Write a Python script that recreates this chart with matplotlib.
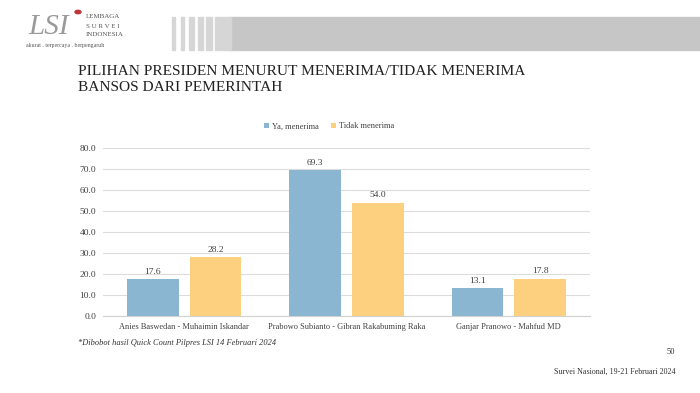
import numpy as np
import matplotlib.pyplot as plt
from matplotlib.patches import Rectangle

plt.rcParams['font.family'] = ['Liberation Serif', 'DejaVu Serif']

# data
pasangan = ['Anies Baswedan - Muhaimin Iskandar',
            'Prabowo Subianto - Gibran Rakabuming Raka',
            'Ganjar Pranowo - Mahfud MD']
ya_menerima = [17.6, 69.3, 13.1]
tidak_menerima = [28.2, 54.0, 17.8]
seri = ['Ya, menerima', 'Tidak menerima']
warna = ['#8ab6d2', '#fdd07f']

fig = plt.figure(figsize=(7, 3.93), dpi=100)
W, H = 700, 393

def fx(px):
    return px / W

def fy(py):
    return 1 - py / H

# header band
fig.patches.append(Rectangle((fx(230), fy(50)), fx(470), 33 / H,
                             transform=fig.transFigure, color='#c6c6c6', zorder=0))
for i in range(7):
    x0 = 172 + i * 8.5
    fig.patches.append(Rectangle((fx(x0), fy(50)), fx(3 + i * 0.8), 33 / H,
                                 transform=fig.transFigure, color='#d6d6d6', zorder=0))

# logo
fig.text(fx(28), fy(27), 'LSI', fontsize=21, color='#9a9a9a', va='center', ha='left',
         fontstyle='italic')
fig.patches.append(plt.Circle((fx(78), fy(12)), 3 / W, transform=fig.transFigure,
                              color='#c0343a'))
fig.text(fx(86), fy(17), 'LEMBAGA', fontsize=5, color='#555555', va='center')
fig.text(fx(86), fy(26), 'S U R V E I', fontsize=5, color='#555555', va='center')
fig.text(fx(86), fy(35), 'INDONESIA', fontsize=5, color='#555555', va='center')
fig.text(fx(26), fy(46), 'akurat . terpercaya . berpengaruh', fontsize=4.2,
         color='#555555', va='center')

# title
fig.text(fx(78), fy(65), 'PILIHAN PRESIDEN MENURUT MENERIMA/TIDAK MENERIMA\nBANSOS DARI PEMERINTAH',
         fontsize=11.1, color='#222222', va='top', ha='left', linespacing=1.3)

ax = fig.add_axes([fx(103), fy(316), fx(590 - 103), (316 - 148) / H])
x = np.arange(len(pasangan))
lebar = 0.32
off = 0.193
b1 = ax.bar(x - off, ya_menerima, lebar, color=warna[0], label=seri[0], zorder=2)
b2 = ax.bar(x + off, tidak_menerima, lebar, color=warna[1], label=seri[1], zorder=2)
for bars in (b1, b2):
    for r in bars:
        ax.text(r.get_x() + r.get_width() / 2, r.get_height() + 1.5,
                f'{r.get_height():.1f}', ha='center', va='bottom', fontsize=6.8,
                color='#404040')

ax.set_xlim(-0.5, 2.5)
ax.set_ylim(0, 80)
ax.set_yticks(np.arange(0, 81, 10))
ax.set_yticklabels([f'{v:.1f}' for v in np.arange(0, 81, 10)], fontsize=6.8, color='#404040')
ax.set_xticks(x)
ax.set_xticklabels(pasangan, fontsize=6.0, color='#404040')
ax.tick_params(length=0, pad=5)
ax.grid(axis='y', color='#dcdcdc', linewidth=0.8, zorder=0)
for s in ['top', 'right', 'left']:
    ax.spines[s].set_visible(False)
ax.spines['bottom'].set_color('#d0d0d0')

ax.legend(loc='lower center', bbox_to_anchor=(0.464, 1.06), ncol=2, frameon=False,
          fontsize=6.0, handlelength=0.6, handleheight=0.6, handletextpad=0.3,
          columnspacing=1.5, labelcolor='#404040')

fig.text(fx(78), fy(343), '*Dibobot hasil Quick Count Pilpres LSI 14 Februari 2024',
         fontsize=6.0, fontstyle='italic', color='#333333', va='center')
fig.text(fx(675), fy(352), '50', fontsize=6, color='#333333', va='center', ha='right')
fig.text(fx(675), fy(372), 'Survei Nasional, 19-21 Februari 2024', fontsize=5.8,
         color='#333333', va='center', ha='right')

fig.savefig('out.png', dpi=100)
